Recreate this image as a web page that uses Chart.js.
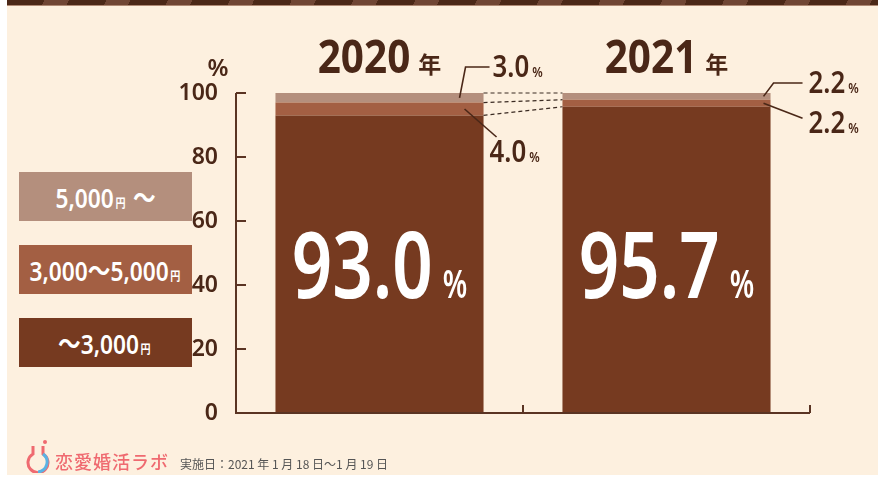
<!DOCTYPE html>
<html lang="ja">
<head>
<meta charset="utf-8">
<title>デート代 予算</title>
<script src="https://cdn.jsdelivr.net/npm/chart.js@4.4.1/dist/chart.umd.min.js"></script>
<style>
html, body { margin: 0; padding: 0; background: #fff; }
#wrap { position: relative; width: 881px; height: 477px; overflow: hidden; }
#bg { position: absolute; left: 7px; top: 0; width: 871px; height: 475px; background: #fdf0df; }
#stripe { position: absolute; left: 7px; top: 0; width: 871px; height: 5px;
  background: repeating-linear-gradient(115deg, #4b2817 0 34px, #704634 34px 56px);
  border-bottom: 1px solid #b08a74; }
#chartBox { position: absolute; left: 0; top: 0; width: 881px; height: 477px; }
.lg { position: absolute; left: 19px; width: 173px; height: 49px; display: flex;
  align-items: center; justify-content: center; color: #fff; white-space: nowrap;
  font-family: "Noto Sans", "Noto Sans CJK JP", sans-serif; font-weight: 600; font-size: 27px; }
.lg .t { display: inline-block; transform: scaleX(0.84); }
.lg .yen { font-size: 12px; margin: 0 2px; }
#logo { position: absolute; left: 24px; top: 439px; }
#brand { position: absolute; left: 55px; top: 448px; font-family: "Noto Sans CJK JP", sans-serif;
  font-size: 18px; font-weight: 500; color: #ef6a70; letter-spacing: 1px; }
#date { position: absolute; left: 180px; top: 455px; font-family: "Noto Sans CJK JP", sans-serif;
  font-size: 12px; color: #555; }
</style>
</head>
<body>
<div id="wrap">
  <div id="bg"></div>
  <div id="stripe"></div>
  <div id="legend"></div>
  <div id="chartBox"><canvas id="myChart"></canvas></div>
  <svg id="logo" width="28" height="34" viewBox="0 0 28 34">
    <path d="M9 7 V15 A10 10 0 1 0 19 15 V7" fill="none" stroke="#ef6a70" stroke-width="3"/>
    <path d="M19 15 A10 10 0 0 1 14 33" fill="none" stroke="#5ab3e4" stroke-width="3"/>
    <circle cx="21" cy="3" r="2" fill="#ef6a70"/>
  </svg>
  <div id="brand">恋愛婚活ラボ</div>
  <div id="date">実施日：2021 年 1 月 18 日〜1 月 19 日</div>
</div>
<script>
const years = ['2020', '2021'];
const under3000 = [93.0, 95.7];
const from3000to5000 = [4.0, 2.2];
const over5000 = [3.0, 2.2];
const yTicks = [0, 20, 40, 60, 80, 100];
const seriesNames = ['〜3,000円', '3,000〜5,000円', '5,000円 〜'];
const seriesColors = ['#763a20', '#a35f43', '#b48f7d'];

const textColor = '#4a2717';

// legend boxes, top to bottom
const legendTops = [172, 245, 318];
const legendEl = document.getElementById('legend');
[2, 1, 0].forEach(function (s, i) {
    const d = document.createElement('div');
    d.className = 'lg';
    d.style.top = legendTops[i] + 'px';
    d.style.background = seriesColors[s];
    d.innerHTML = '<span class="t">' + seriesNames[s].replace('円', '<span class="yen">円</span>') + '</span>';
    legendEl.appendChild(d);
});

function drawScaled(ctx, text, x, y, font, sx) {
    ctx.save();
    ctx.font = font;
    ctx.translate(x, y);
    ctx.scale(sx, 1);
    ctx.fillText(text, 0, 0);
    ctx.restore();
}

// number + small unit
function drawNum(ctx, num, unit, o) {
    const f1 = o.weight + ' ' + o.size + 'px ' + (o.family || '"Noto Sans"');
    const f2 = o.weight + ' ' + o.unitSize + 'px ' + (o.unitFamily || '"Noto Sans"');
    ctx.font = f1;
    const w1 = ctx.measureText(num).width * o.sx;
    ctx.font = f2;
    const w2 = ctx.measureText(unit).width * o.usx;
    const total = w1 + o.gap + w2;
    const start = o.align === 'center' ? o.x - total / 2 : o.x;
    ctx.fillStyle = o.color;
    ctx.textBaseline = 'alphabetic';
    ctx.textAlign = 'left';
    drawScaled(ctx, num, start, o.y, f1, o.sx);
    drawScaled(ctx, unit, start + w1 + o.gap, o.y, f2, o.usx);
}

const annotPlugin = {
    id: 'annot',
    afterDatasetsDraw(chart) {
        const ctx = chart.ctx;
        const area = chart.chartArea;
        const xs = chart.scales.x;
        const ys = chart.scales.y;
        const bars = [0, 1, 2].map(i => chart.getDatasetMeta(i).data.map(e => e.getProps(['x', 'y', 'base', 'width'], true)));

        ctx.save();
        // axes
        ctx.strokeStyle = '#5a3423';
        ctx.lineWidth = 2;
        ctx.beginPath();
        ctx.moveTo(area.left, ys.getPixelForValue(100));
        ctx.lineTo(area.left, ys.getPixelForValue(0));
        ctx.lineTo(area.right, ys.getPixelForValue(0));
        yTicks.forEach(function (v) {
            ctx.moveTo(area.left, ys.getPixelForValue(v));
            ctx.lineTo(area.left + 10, ys.getPixelForValue(v));
        });
        const catW = (area.right - area.left) / years.length;
        years.forEach(function (yr, j) {
            const bx = xs.getPixelForValue(j) + catW / 2;
            ctx.moveTo(bx, area.bottom);
            ctx.lineTo(bx, area.bottom - 8);
        });
        ctx.stroke();

        // "%" unit over y axis
        ctx.fillStyle = textColor;
        ctx.textAlign = 'center';
        ctx.font = '600 24px "Noto Sans"';
        ctx.fillText('%', area.left - 18, area.top - 17);

        // titles and big percentages
        years.forEach(function (yr, j) {
            const b = bars[0][j];
            drawNum(ctx, yr, '年', {x: b.x, y: area.top - 20, size: 46, unitSize: 23, weight: 'bold',
                family: '"Noto Sans"', unitFamily: '"Noto Sans CJK JP"', sx: 0.88, usx: 1, gap: 8,
                align: 'center', color: textColor});
            drawNum(ctx, under3000[j].toFixed(1), '%', {x: b.x, y: area.top + 205, size: 92, unitSize: 40,
                weight: 600, sx: 0.77, usx: 0.7, gap: 10, align: 'center', color: '#fff'});
        });

        // dashed connectors between the bars
        const r0 = bars[0][0].x + bars[0][0].width / 2;
        const l1 = bars[0][1].x - bars[0][1].width / 2;
        ctx.strokeStyle = '#3a2a22';
        ctx.lineWidth = 1.2;
        ctx.setLineDash([4, 3]);
        ctx.beginPath();
        [2, 1, 0].forEach(function (s) {
            ctx.moveTo(r0, Math.max(area.top, bars[s][0].y));
            ctx.lineTo(l1, Math.max(area.top, bars[s][1].y));
        });
        ctx.stroke();
        ctx.setLineDash([]);

        // leader lines and small labels
        ctx.strokeStyle = '#4a2717';
        ctx.lineWidth = 1.6;
        const small = {size: 30, unitSize: 15, weight: 600, sx: 0.86, usx: 0.8, gap: 3, align: 'left', color: textColor};
        function seg(s, j) {
            const b = bars[s][j];
            const top = Math.max(area.top, b.y);
            return {right: b.x + b.width / 2, mid: (top + b.base) / 2};
        }
        // 2020 top slice
        let g = seg(2, 0);
        let ly = area.top - 26;
        ctx.beginPath();
        ctx.moveTo(g.right - 24, g.mid);
        ctx.lineTo(g.right - 18, ly);
        ctx.lineTo(g.right + 6, ly);
        ctx.stroke();
        drawNum(ctx, over5000[0].toFixed(1), '%', Object.assign({x: g.right + 9, y: ly + 10}, small));
        // 2020 middle slice
        g = seg(1, 0);
        ctx.beginPath();
        ctx.moveTo(g.right - 19, g.mid);
        ctx.lineTo(g.right + 13, g.mid + 28);
        ctx.stroke();
        drawNum(ctx, from3000to5000[0].toFixed(1), '%', Object.assign({x: g.right + 6, y: g.mid + 53}, small));
        // 2021 top slice
        g = seg(2, 1);
        ly = area.top - 10;
        ctx.beginPath();
        ctx.moveTo(g.right - 7, g.mid);
        ctx.lineTo(g.right + 3, ly);
        ctx.lineTo(g.right + 32, ly);
        ctx.stroke();
        drawNum(ctx, over5000[1].toFixed(1), '%', Object.assign({x: g.right + 38, y: ly + 10}, small));
        // 2021 middle slice
        g = seg(1, 1);
        ctx.beginPath();
        ctx.moveTo(g.right - 7, g.mid);
        ctx.lineTo(g.right + 32, g.mid + 15);
        ctx.stroke();
        drawNum(ctx, from3000to5000[1].toFixed(1), '%', Object.assign({x: g.right + 38, y: g.mid + 30}, small));

        ctx.restore();
    }
};

const ctx = document.getElementById('myChart').getContext('2d');
const myChart = new Chart(ctx, {
    type: 'bar',
    data: {
        labels: years,
        datasets: [
            {label: seriesNames[0], data: under3000, backgroundColor: seriesColors[0]},
            {label: seriesNames[1], data: from3000to5000, backgroundColor: seriesColors[1]},
            {label: seriesNames[2], data: over5000, backgroundColor: seriesColors[2]}
        ]
    },
    options: {
        responsive: true,
        maintainAspectRatio: false,
        animation: false,
        layout: {padding: {left: 0, top: 93, right: 71, bottom: 64}},
        datasets: {bar: {barPercentage: 0.725, categoryPercentage: 1, borderWidth: 0}},
        plugins: {legend: {display: false}, tooltip: {enabled: false}},
        scales: {
            x: {
                stacked: true,
                display: false
            },
            y: {
                stacked: true,
                min: 0,
                max: 100,
                afterFit: function (scale) { scale.width = 236; },
                afterBuildTicks: function (scale) { scale.ticks = yTicks.map(v => ({value: v})); },
                grid: {display: false},
                border: {display: false},
                ticks: {
                    padding: 10,
                    color: textColor,
                    font: {family: 'Noto Sans', size: 23, weight: 600}
                }
            }
        }
    },
    plugins: [annotPlugin]
});
</script>
</body>
</html>
